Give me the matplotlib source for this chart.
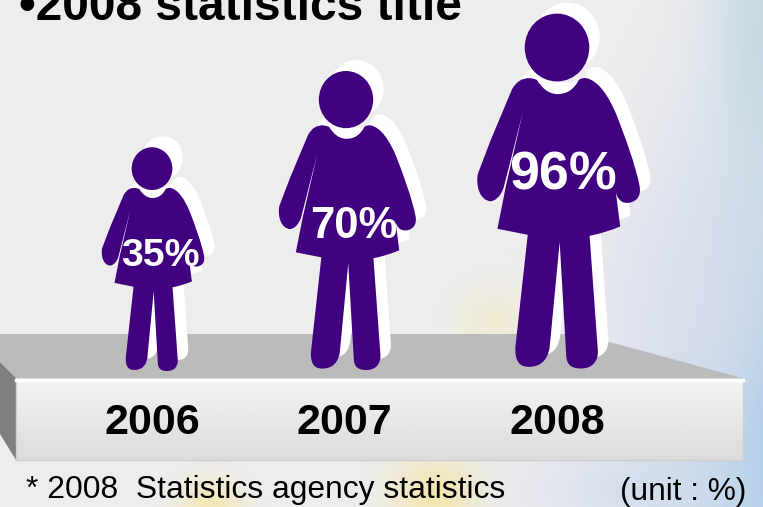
import numpy as np
import matplotlib
matplotlib.use('Agg')
import matplotlib.pyplot as plt
from matplotlib.path import Path
from matplotlib.patches import PathPatch, Polygon, Ellipse

plt.rcParams['font.family'] = ['Liberation Sans', 'DejaVu Sans']

years = ['2006', '2007', '2008']
percents = [35, 70, 96]
title = '\u20222008 statistics title'
source = '* 2008  Statistics agency statistics'
unit = '(unit : %)'

# where things sit, in pixels
person_x = [152, 346, 557]
feet_y = [371, 370, 368.5]
year_x = [152, 344, 557]
label_x = [160, 354, 563]
label_y = [256, 227, 175]
label_size = [28.3, 31.5, 38.7]
purple = '#400080'

# person outline (x from centre, y from feet)
M, L, C, Z = Path.MOVETO, Path.LINETO, Path.CURVE4, Path.CLOSEPOLY
outline = [
    (M, [(200, 238)]),
    (C, [(215, 262), (235, 280), (262, 280)]),
    (C, [(290, 280), (312, 265), (325, 238)]),
    (C, [(332, 232), (340, 231), (348, 232)]),
    (C, [(385, 240), (415, 285), (440, 345)]),
    (C, [(465, 410), (495, 490), (508, 555)]),
    (C, [(515, 590), (495, 607), (470, 607)]),
    (C, [(450, 607), (440, 590), (437, 575)]),
    (L, [(450, 678)]),
    (C, [(420, 690), (390, 700), (358, 706)]),
    (L, [(382, 1040)]),
    (C, [(388, 1085), (365, 1105), (332, 1105)]),
    (C, [(305, 1105), (290, 1095), (288, 1070)]),
    (L, [(268, 725)]),
    (L, [(238, 1040)]),
    (C, [(232, 1085), (205, 1100), (175, 1100)]),
    (C, [(145, 1100), (133, 1080), (135, 1040)]),
    (L, [(172, 703)]),
    (L, [(81, 685)]),
    (L, [(106, 558)]),
    (L, [(158, 332)]),
    (L, [(100, 560)]),
    (C, [(90, 590), (72, 602), (60, 602)]),
    (C, [(30, 600), (15, 560), (22, 520)]),
    (L, [(60, 420)]),
    (L, [(125, 265)]),
    (C, [(140, 240), (155, 233), (175, 232)]),
    (C, [(185, 232), (195, 235), (200, 238)]),
]
verts, codes = [], []
for code, pts in outline:
    verts += pts
    codes += [code] * len(pts)
verts = (np.array(verts, dtype=float) - [260, 1105]) / 1067


def person(ax, x, feet, height, color, zorder):
    path = Path(verts * height + [x, feet], codes)
    ax.add_patch(PathPatch(path, fc=color, ec='none', zorder=zorder))
    head_y = feet + (140 - 1105) / 1067 * height
    ax.add_patch(Ellipse((x, head_y), 194 / 1067 * height, 204 / 1067 * height,
                         fc=color, ec='none', zorder=zorder))


fig = plt.figure(figsize=(7.63, 5.07), dpi=100)
ax = fig.add_axes([0, 0, 1, 1])

# soft background wash
xx, yy = np.meshgrid(np.arange(763), np.arange(507))
bg = np.ones((507, 763, 3)) * np.array([0.935, 0.93, 0.935])
washes = [
    (795, 420, 80, 170, (0.62, 0.78, 0.90), 1.0),
    (770, 30, 45, 130, (0.72, 0.83, 0.88), 0.7),
    (700, 300, 70, 110, (0.85, 0.87, 0.93), 0.8),
    (435, 495, 30, 28, (0.96, 0.90, 0.62), 0.8),
    (210, 505, 22, 18, (0.96, 0.90, 0.62), 0.7),
    (495, 320, 28, 25, (0.95, 0.91, 0.72), 0.45),
    (640, 490, 80, 35, (0.80, 0.85, 0.93), 0.6),
]
for cx, cy, sx, sy, col, amount in washes:
    w = amount * np.exp(-((xx - cx) / sx) ** 2 / 2 - ((yy - cy) / sy) ** 2 / 2)
    bg = bg * (1 - w[..., None]) + np.array(col) * w[..., None]
ax.imshow(bg, extent=(0, 763, 507, 0), aspect='auto', zorder=0)

# platform
ax.add_patch(Polygon([(0, 334), (580, 334), (742, 378), (16, 378), (0, 362)],
                     fc='#bbbbbb', ec='none', zorder=1))
ax.add_patch(Polygon([(0, 362), (16, 378), (16, 460), (0, 434)],
                     fc='#808080', ec='none', zorder=1))
grad = np.linspace(0.95, 0.86, 64).reshape(-1, 1)
ax.imshow(grad, extent=(16, 743, 460, 378), cmap='gray', vmin=0, vmax=1,
          aspect='auto', zorder=1.5)
ax.add_patch(Polygon([(16, 378), (743, 378), (743, 460), (16, 460)],
                     fc='none', ec='#cfcfcf', lw=1, zorder=1.6))
ax.plot([16, 743], [379.5, 379.5], color='white', lw=2.5, zorder=1.7)

ax.set_xlim(0, 763)
ax.set_ylim(507, 0)
ax.axis('off')

# figure height follows the value
for i, v in enumerate(percents):
    h = 148.5 + 2.15 * v
    person(ax, person_x[i] + 10.5, feet_y[i] - 11, h, 'white', 2)
for i, v in enumerate(percents):
    h = 148.5 + 2.15 * v
    person(ax, person_x[i], feet_y[i], h, purple, 3)
    ax.text(label_x[i], label_y[i], f'{v}%', color='white', fontsize=label_size[i],
            fontweight='bold', ha='center', va='center', zorder=4)
    ax.text(year_x[i], 423, years[i], color='black', fontsize=31, fontweight='bold',
            ha='center', va='center', zorder=4)

ax.text(19, 20, title, color='black', fontsize=34.5, fontweight='bold',
        ha='left', va='baseline', zorder=4)
ax.text(26, 498, source, color='black', fontsize=22.9, ha='left', va='baseline', zorder=4)
ax.text(746, 500, unit, color='black', fontsize=22.8, ha='right', va='baseline', zorder=4)

fig.savefig('out.png', dpi=100)
